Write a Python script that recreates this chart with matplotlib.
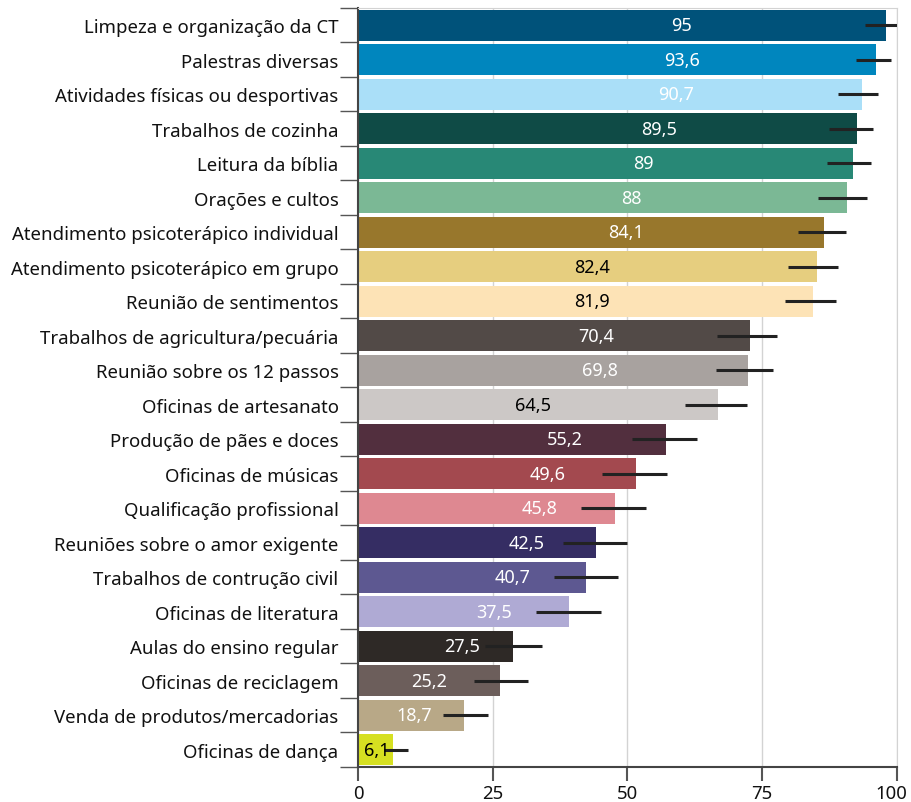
import numpy as np
import matplotlib
matplotlib.use("Agg")
import matplotlib.pyplot as plt
from matplotlib.transforms import ScaledTranslation

plt.rcParams['font.family'] = ['Noto Sans', 'DejaVu Sans']

categorias = ['Limpeza e organização da CT', 'Palestras diversas',
              'Atividades físicas ou desportivas', 'Trabalhos de cozinha',
              'Leitura da bíblia', 'Orações e cultos',
              'Atendimento psicoterápico individual',
              'Atendimento psicoterápico em grupo', 'Reunião de sentimentos',
              'Trabalhos de agricultura/pecuária', 'Reunião sobre os 12 passos',
              'Oficinas de artesanato', 'Produção de pães e doces',
              'Oficinas de músicas', 'Qualificação profissional',
              'Reuniões sobre o amor exigente', 'Trabalhos de contrução civil',
              'Oficinas de literatura', 'Aulas do ensino regular',
              'Oficinas de reciclagem', 'Venda de produtos/mercadorias',
              'Oficinas de dança']

# valores rotulados
rotulos = ['95', '93,6', '90,7', '89,5', '89', '88', '84,1', '82,4', '81,9',
           '70,4', '69,8', '64,5', '55,2', '49,6', '45,8', '42,5', '40,7',
           '37,5', '27,5', '25,2', '18,7', '6,1']

barras = [97.9, 96.2, 93.6, 92.5, 91.9, 90.7, 86.4, 85.2, 84.5, 72.7, 72.3,
          66.7, 57.1, 51.6, 47.6, 44.1, 42.3, 39.1, 28.7, 26.3, 19.7, 6.5]

# intervalos (linhas pretas)
erro_min = [94.0, 92.4, 89.1, 87.3, 87.0, 85.4, 81.7, 79.7, 79.3, 66.6, 66.4,
            60.6, 50.8, 45.3, 41.4, 38.1, 36.3, 33.1, 23.6, 21.5, 15.7, 4.8]
erro_max = [101.0, 98.9, 96.4, 95.6, 95.1, 94.4, 90.5, 89.1, 88.6, 77.8, 77.0,
            72.2, 62.9, 57.3, 53.5, 50.0, 48.2, 45.0, 34.2, 31.6, 24.1, 9.3]

cores = ['#00527A', '#0086BE', '#AADFF8', '#0F4B46', '#288876', '#7BB895',
         '#98772C', '#E6CE7F', '#FDE3B6', '#524A47', '#A8A29F', '#CCC8C6',
         '#522F3E', '#A3494F', '#DE8891', '#352D63', '#5D5891', '#AFAAD4',
         '#2E2926', '#6C5E5B', '#B8A887', '#D6E021']

cor_texto = ['white'] * 22
for i in [7, 8, 11, 21]:
    cor_texto[i] = 'black'

# posição horizontal dos rótulos (centro)
rotulo_x = [60.1, 60.1, 59.1, 55.9, 52.9, 50.8, 49.7, 43.5, 43.5, 44.2, 44.9,
            32.4, 38.3, 35.1, 33.6, 31.3, 28.7, 25.2, 19.3, 13.2, 10.5, 3.4]

fig = plt.figure(figsize=(9.11, 8.03), dpi=100)
ax = fig.add_axes([0.393, 0.0436, 0.5916, 0.9452])

y = np.arange(len(categorias))
ax.barh(y, barras, height=0.9, color=cores, zorder=2)
ax.hlines(y, erro_min, erro_max, color='#222222', lw=2.2, zorder=3)

for i in range(len(y)):
    ax.text(rotulo_x[i], y[i], rotulos[i], ha='center', va='center',
            fontsize=13, color=cor_texto[i], zorder=4)

ax.set_xlim(0, 100)
ax.set_ylim(len(categorias) - 0.5, -0.5)
ax.set_xticks([0, 25, 50, 75, 100])
ax.grid(axis='x', color='#D3D3D3', lw=1, zorder=0)

ax.set_yticks(np.arange(-0.5, len(categorias), 1))
ax.set_yticklabels([])
ax.set_yticks(y, minor=True)
ax.set_yticklabels(categorias, minor=True, fontsize=13.4, color='#111111')
ax.tick_params(axis='y', which='minor', length=0, pad=14)
ax.tick_params(axis='y', which='major', length=13, width=1.0, color='#555555')
ax.tick_params(axis='x', length=10, width=1.5, color='#555555', labelsize=13.4,
               labelcolor='#111111', pad=2)

# "100" encostado na borda: puxa um pouco para a esquerda
ultimo = ax.get_xticklabels()[-1]
ultimo.set_transform(ultimo.get_transform() +
                     ScaledTranslation(-4 / 72, 0, fig.dpi_scale_trans))

for s in ['top', 'right']:
    ax.spines[s].set_color('#D3D3D3')
ax.spines['left'].set_color('#444444')
ax.spines['left'].set_linewidth(1.5)
ax.spines['bottom'].set_color('#444444')
ax.spines['bottom'].set_linewidth(1.5)

fig.savefig('out.png', dpi=100)
